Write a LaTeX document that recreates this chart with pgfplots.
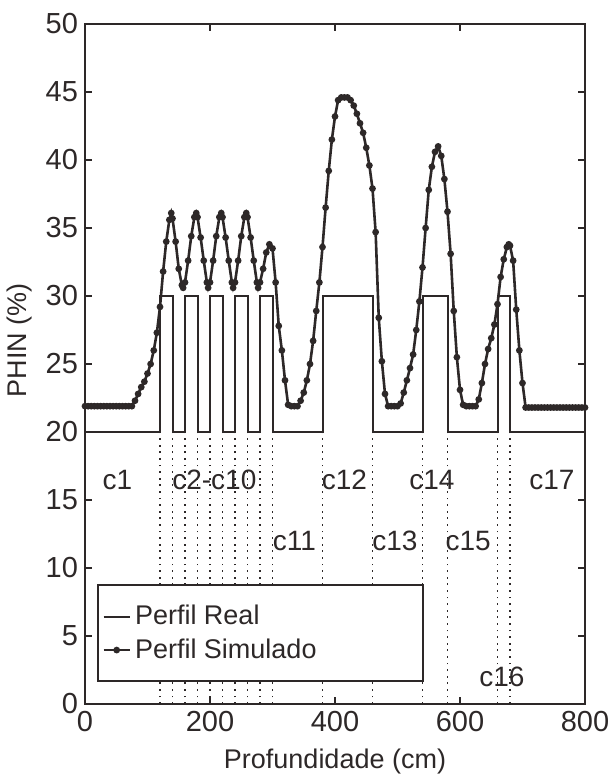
\documentclass[border=0pt]{standalone}
\usepackage{pgfplots}
\pgfplotsset{compat=1.18}
\usepackage{pgfplotstable}
\usepackage{fontspec}
\setmainfont{Liberation Sans}
\definecolor{ink}{RGB}{45,40,40}

\pgfplotstableread{
x y
0 21.9
5 21.9
10 21.9
15 21.9
20 21.9
25 21.9
30 21.9
35 21.9
40 21.9
45 21.9
50 21.9
55 21.9
60 21.9
65 21.9
70 21.9
75 21.9
80 22.3
85 22.8
90 23.3
95 23.7
100 24.3
105 25.0
110 26.0
115 27.3
120 29.2
125 31.8
130 34.0
135 35.6
138 36.1
140 35.7
145 34.0
150 32.0
155 30.8
157 30.6
160 31.0
165 32.6
170 34.4
175 35.8
178 36.1
180 35.8
185 34.3
190 32.6
195 31.0
197 30.6
200 31.0
205 32.6
210 34.4
215 35.8
218 36.1
220 35.8
225 34.3
230 32.6
235 31.0
237 30.6
240 31.0
245 32.6
250 34.4
255 35.8
258 36.1
260 35.8
265 34.3
270 32.6
275 31.0
277 30.6
280 31.0
285 32.0
290 33.2
295 33.8
300 33.5
305 31.0
310 27.8
315 26.0
320 23.8
325 22.0
330 21.9
335 21.9
340 21.9
345 22.3
350 22.9
355 23.8
360 25.0
365 26.7
370 28.9
375 31.0
380 33.6
385 36.5
390 39.2
395 41.5
400 43.2
405 44.4
410 44.6
415 44.6
420 44.6
425 44.4
430 44.0
435 43.4
440 42.7
445 42.0
450 40.9
455 39.6
460 37.9
465 34.7
470 28.4
475 25.2
480 22.8
485 21.9
490 21.9
495 21.9
500 21.9
505 22.1
510 22.9
515 23.8
520 24.7
525 25.7
530 27.5
535 29.6
540 32.1
545 35.0
550 37.8
555 39.5
560 40.6
565 41.0
570 40.3
575 38.6
580 36.2
585 33.1
590 28.9
595 25.5
600 23.1
605 22.0
610 21.9
615 21.9
620 21.9
625 21.9
630 22.4
635 23.6
640 25.0
645 26.1
650 26.9
655 27.9
660 29.4
665 31.4
670 32.7
675 33.6
678 33.8
680 33.7
685 32.6
690 29.0
695 26.0
700 23.6
705 21.8
710 21.8
715 21.8
720 21.8
725 21.8
730 21.8
735 21.8
740 21.8
745 21.8
750 21.8
755 21.8
760 21.8
765 21.8
770 21.8
775 21.8
780 21.8
785 21.8
790 21.8
795 21.8
800 21.8
}\simdata

\pgfplotstableread{
x y
0 20
120 30
140 20
160 30
180 20
200 30
220 20
240 30
260 20
280 30
300 20
380 30
460 20
540 30
580 20
660 30
680 20
800 20
}\realdata

\pgfplotstableread{
x y
120 20
140 20
160 20
180 20
200 20
220 20
240 20
260 20
280 20
300 20
380 20
460 20
540 20
580 20
660 20
680 20
}\bounds

\begin{document}
\begin{tikzpicture}
\path[use as bounding box] (-42.5pt,-36pt) rectangle (262.5pt,352pt);
\begin{axis}[
  scale only axis,
  width=250pt, height=340pt,
  at={(0,0)}, anchor=south west,
  xmin=0, xmax=800, ymin=0, ymax=50,
  xtick={0,200,400,600,800},
  ytick={0,5,...,50},
  tick align=inside,
  major tick length=3.5pt,
  axis line style={ink, line width=1pt},
  every tick/.style={ink, line width=0.9pt},
  /pgf/number format/assume math mode=true,
  tick label style={font=\fontsize{14.5}{16}\selectfont, text=ink},
  xlabel={Profundidade (cm)},
  ylabel={PHIN (\%)},
  label style={font=\fontsize{13.5}{15}\selectfont, text=ink},
  xlabel style={at={(axis description cs:0.5,-0.085)}, anchor=center},
  ylabel style={at={(axis description cs:-0.13,0.535)}, anchor=center},
  legend style={at={(axis cs:20,8.8)}, anchor=north west, draw=ink,
    line width=0.9pt, fill=white, font=\fontsize{13.5}{15}\selectfont,
    text=ink, inner xsep=2pt, inner ysep=8pt, row sep=1.5pt,
    cells={anchor=west}},
  legend image code/.code={\draw[mark repeat=2,mark phase=2,#1] plot coordinates {(0pt,0pt) (6.5pt,0pt) (13pt,0pt)};},
]
\addplot[ycomb, ink, line width=0.9pt, dash pattern=on 0.9pt off 2.4pt, mark=none, forget plot] table[x=x,y=y] {\bounds};
\addplot[const plot, ink, line width=1pt, mark=none] table[x=x,y=y] {\realdata};
\addlegendentry{\makebox[140pt][l]{Perfil Real}}
\addplot[ink, line width=1.3pt, mark=*, mark size=1.0pt, mark options={fill=ink, draw=ink}] table[x=x,y=y] {\simdata};
\addlegendentry{\makebox[140pt][l]{Perfil Simulado}}
\begin{scope}[every node/.style={font=\fontsize{14}{16}\selectfont, text=ink}]
\node at (axis cs:52,16.5) {c1};
\node at (axis cs:207,16.5) {c2-c10};
\node at (axis cs:415,16.5) {c12};
\node at (axis cs:555,16.5) {c14};
\node at (axis cs:747,16.5) {c17};
\node at (axis cs:335,12.0) {c11};
\node at (axis cs:496,12.0) {c13};
\node at (axis cs:613,12.0) {c15};
\node at (axis cs:667,2.0) {c16};
\end{scope}
\end{axis}
\end{tikzpicture}
\end{document}
